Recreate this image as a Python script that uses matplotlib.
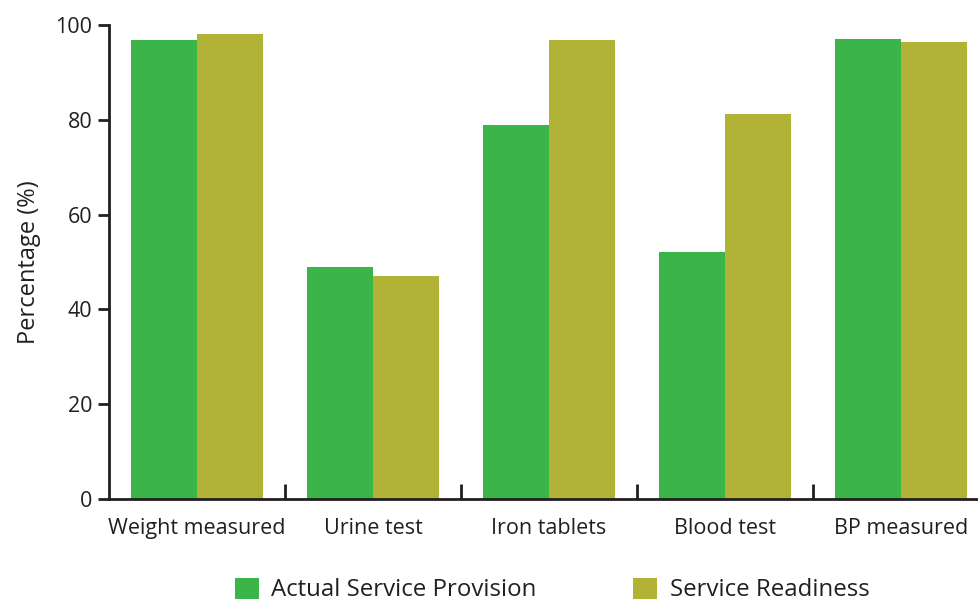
import matplotlib.pyplot as plt
import numpy as np

plt.rcParams['font.family'] = ['Open Sans', 'DejaVu Sans']

categories = ['Weight measured', 'Urine test', 'Iron tablets', 'Blood test', 'BP measured']
actual = [96.8, 48.9, 78.9, 52.1, 97.0]
readiness = [98.1, 47.0, 96.8, 81.2, 96.4]

green = '#3bb54a'
olive = '#b1b337'
ink = '#231f20'

fig = plt.figure(figsize=(9.79, 6.02), dpi=100)
ax = fig.add_axes([109 / 979, 103 / 602, 880 / 979, 474 / 602])

x = np.arange(len(categories))
w = 0.375
b1 = ax.bar(x - w / 2, actual, w, color=green, label='Actual Service Provision')
b2 = ax.bar(x + w / 2, readiness, w, color=olive, label='Service Readiness')

ax.set_xlim(-0.5, len(categories) - 0.5)
ax.set_ylim(0, 100)
ax.set_yticks([0, 20, 40, 60, 80, 100])
ax.set_xticks(x)
ax.set_xticklabels(categories, fontsize=15.5, color=ink)
# group separators drawn as inward minor ticks
ax.set_xticks(np.arange(0.5, len(categories) - 0.5), minor=True)
ax.tick_params(axis='x', which='major', length=0, pad=14)
ax.tick_params(axis='x', which='minor', direction='in', length=11, width=2, color=ink)
ax.tick_params(axis='y', direction='out', length=8, width=2, color=ink,
               labelsize=15.5, labelcolor=ink, pad=4)

for side in ['top', 'right']:
    ax.spines[side].set_visible(False)
for side in ['left', 'bottom']:
    ax.spines[side].set_linewidth(2)
    ax.spines[side].set_color(ink)

ax.set_ylabel('Percentage (%)', fontsize=17, color=ink, labelpad=10)

fig.legend(handles=[b1, b2], loc='center', bbox_to_anchor=(552 / 979, 1 - 590 / 602),
           ncol=2, frameon=False, fontsize=17.3, handlelength=1.0, handleheight=1.0,
           handletextpad=0.5, columnspacing=4.05, labelcolor=ink)

fig.savefig('out.png', dpi=100)
